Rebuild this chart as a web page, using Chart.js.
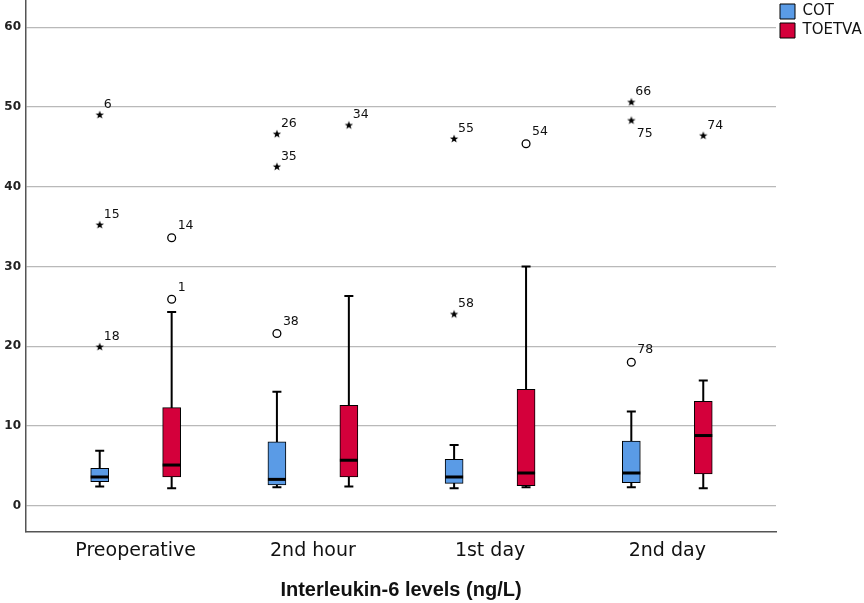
<!DOCTYPE html>
<html><head><meta charset="utf-8">
<script src="https://cdn.jsdelivr.net/npm/chart.js@4.4.1/dist/chart.umd.min.js"></script>
<style>html,body{margin:0;padding:0;background:#fff;} #wrap{width:864px;height:603px;}</style>
</head><body><div id="wrap"><canvas id="c" width="864" height="603"></canvas></div>
<script>
// ---- data ----
const categories = ['Preoperative', '2nd hour', '1st day', '2nd day'];
const yTicks = [0, 10, 20, 30, 40, 50, 60];
const seriesNames = ['COT', 'TOETVA'];

const cotMin = [2.4, 2.3, 2.2, 2.3];
const cotQ1  = [3.0, 2.6, 2.8, 2.9];
const cotMed = [3.6, 3.3, 3.6, 4.1];
const cotQ3  = [4.7, 8.0, 5.8, 8.1];
const cotMax = [6.9, 14.3, 7.6, 11.8];

const toeMin = [2.2, 2.4, 2.3, 2.2];
const toeQ1  = [3.6, 3.6, 2.5, 4.0];
const toeMed = [5.1, 5.7, 4.1, 8.8];
const toeQ3  = [12.3, 12.6, 14.6, 13.1];
const toeMax = [24.3, 26.3, 30.0, 15.7];

// outliers: [category index, value, case id]
const cotCircles = [[1, 21.6, '38'], [3, 18.0, '78']];
const cotStars = [[0, 49.0, '6'], [0, 35.2, '15'], [0, 19.9, '18'], [1, 46.6, '26'], [1, 42.5, '35'],
                  [2, 46.0, '55'], [2, 24.0, '58'], [3, 50.6, '66'], [3, 48.3, '75']];
const toeCircles = [[0, 33.6, '14'], [0, 25.9, '1'], [2, 45.4, '54']];
const toeStars = [[1, 47.7, '34'], [3, 46.4, '74']];

// ---- styling ----
const OFF = 0.203;
const BLUE = '#5a9be6', RED = '#d4003b';
const labelBelow = ['75'];

function starCanvas() {
  const s = 12, c = document.createElement('canvas');
  c.width = s; c.height = s;
  const g = c.getContext('2d');
  g.fillStyle = '#000';
  g.beginPath();
  for (let k = 0; k < 10; k++) {
    const r = k % 2 ? 1.8 : 4.4;
    const a = -Math.PI / 2 + k * Math.PI / 5;
    g.lineTo(s / 2 + r * Math.cos(a), s / 2 + r * Math.sin(a));
  }
  g.closePath(); g.fill();
  return c;
}
const STAR = starCanvas();

function boxDataset(name, color, q1, q3, mn, md, mx, off) {
  return {
    type: 'bar', label: name,
    data: categories.map((c, i) => ({ x: i + off, y: [q1[i], q3[i]] })),
    backgroundColor: color, borderColor: '#000', borderWidth: 1, borderSkipped: false,
    barThickness: 18, grouped: false,
    stats: { min: mn, med: md, max: mx, off: off }
  };
}
function outlierDataset(name, pts, off, kind) {
  const ds = {
    type: 'scatter', label: name, kind: kind,
    data: pts.map(p => ({ x: p[0] + off, y: p[1], id: p[2] })),
    borderColor: '#000', backgroundColor: '#fff'
  };
  if (kind === 'circle') { ds.pointStyle = 'circle'; ds.pointRadius = 3.9; ds.borderWidth = 1.3; }
  else { ds.pointStyle = STAR; ds.pointRadius = 5; ds.borderWidth = 0; }
  return ds;
}

const extras = {
  id: 'boxExtras',
  beforeDatasetsDraw(chart) {
    const { ctx, scales: { x, y } } = chart;
    ctx.save();
    ctx.strokeStyle = '#000'; ctx.lineWidth = 2;
    chart.data.datasets.forEach(ds => {
      if (!ds.stats) return;
      categories.forEach((c, i) => {
        const px = x.getPixelForValue(i + ds.stats.off);
        const yt = y.getPixelForValue(ds.stats.max[i]);
        const yb = y.getPixelForValue(ds.stats.min[i]);
        ctx.beginPath();
        ctx.moveTo(px, yt); ctx.lineTo(px, yb);
        ctx.moveTo(px - 4.5, yt); ctx.lineTo(px + 4.5, yt);
        ctx.moveTo(px - 4.5, yb); ctx.lineTo(px + 4.5, yb);
        ctx.stroke();
      });
    });
    ctx.restore();
  },
  afterDatasetsDraw(chart) {
    const { ctx, scales: { x, y } } = chart;
    ctx.save();
    ctx.strokeStyle = '#000'; ctx.lineWidth = 3;
    chart.data.datasets.forEach(ds => {
      if (!ds.stats) return;
      categories.forEach((c, i) => {
        const px = x.getPixelForValue(i + ds.stats.off);
        const ym = y.getPixelForValue(ds.stats.med[i]);
        ctx.beginPath(); ctx.moveTo(px - 9, ym); ctx.lineTo(px + 9, ym); ctx.stroke();
      });
    });
    ctx.fillStyle = '#111';
    ctx.font = '12.5px "DejaVu Sans"';
    ctx.textAlign = 'left'; ctx.textBaseline = 'alphabetic';
    chart.data.datasets.forEach((ds, di) => {
      if (!ds.kind) return;
      const meta = chart.getDatasetMeta(di);
      meta.data.forEach((pt, j) => {
        const id = ds.data[j].id;
        let dx = ds.kind === 'star' ? 4 : 6, dy = ds.kind === 'star' ? -7 : -8.7;
        if (labelBelow.includes(id)) { dx = 5.5; dy = 16.4; }
        ctx.fillText(id, pt.x + dx, pt.y + dy);
      });
    });
    ctx.restore();
  }
};

new Chart(document.getElementById('c'), {
  type: 'bar',
  data: {
    datasets: [
      boxDataset(seriesNames[0], BLUE, cotQ1, cotQ3, cotMin, cotMed, cotMax, -OFF),
      boxDataset(seriesNames[1], RED, toeQ1, toeQ3, toeMin, toeMed, toeMax, OFF),
      outlierDataset('cotCircles', cotCircles, -OFF, 'circle'),
      outlierDataset('cotStars', cotStars, -OFF, 'star'),
      outlierDataset('toeCircles', toeCircles, OFF, 'circle'),
      outlierDataset('toeStars', toeStars, OFF, 'star')
    ]
  },
  options: {
    responsive: false, animation: false, events: [],
    layout: { padding: 0, autoPadding: false },
    plugins: {
      tooltip: { enabled: false },
      legend: {
        position: 'right', align: 'start', maxWidth: 88,
        labels: {
          boxWidth: 15, boxHeight: 15, padding: 4, color: '#111',
          font: { family: 'DejaVu Sans', size: 15 },
          filter: item => item.datasetIndex < 2
        }
      }
    },
    scales: {
      x: {
        type: 'linear', min: -0.619, max: 3.6135, offset: false,
        afterBuildTicks: s => { s.ticks = categories.map((c, i) => ({ value: i })); },
        afterFit: s => { s.height = 71; s.paddingLeft = 0; s.paddingRight = 0; },
        ticks: {
          callback: v => categories[v] ?? '', autoSkip: false, maxRotation: 0,
          font: { family: 'DejaVu Sans', size: 19 }, color: '#111', padding: 8
        },
        grid: { display: false, drawTicks: false, offset: false },
        border: { display: true, color: '#555', width: 1.5 },
        title: {
          display: true, text: 'Interleukin-6 levels (ng/L)', color: '#111',
          font: { family: 'Liberation Sans', size: 20, weight: 'bold' },
          padding: { top: 0, bottom: 1 }
        }
      },
      y: {
        min: -3.3, max: 63.43,
        afterBuildTicks: s => { s.ticks = yTicks.map(v => ({ value: v })); },
        afterFit: s => { s.width = 26; s.paddingTop = 0; s.paddingBottom = 0; },
        ticks: { font: { family: 'DejaVu Sans', size: 12, weight: 'bold' }, color: '#222', padding: 5 },
        grid: { color: '#b9b9b9', lineWidth: 1.3, drawTicks: false },
        border: { color: '#555', width: 1.5 }
      }
    }
  },
  plugins: [extras]
});
</script>
</body></html>
